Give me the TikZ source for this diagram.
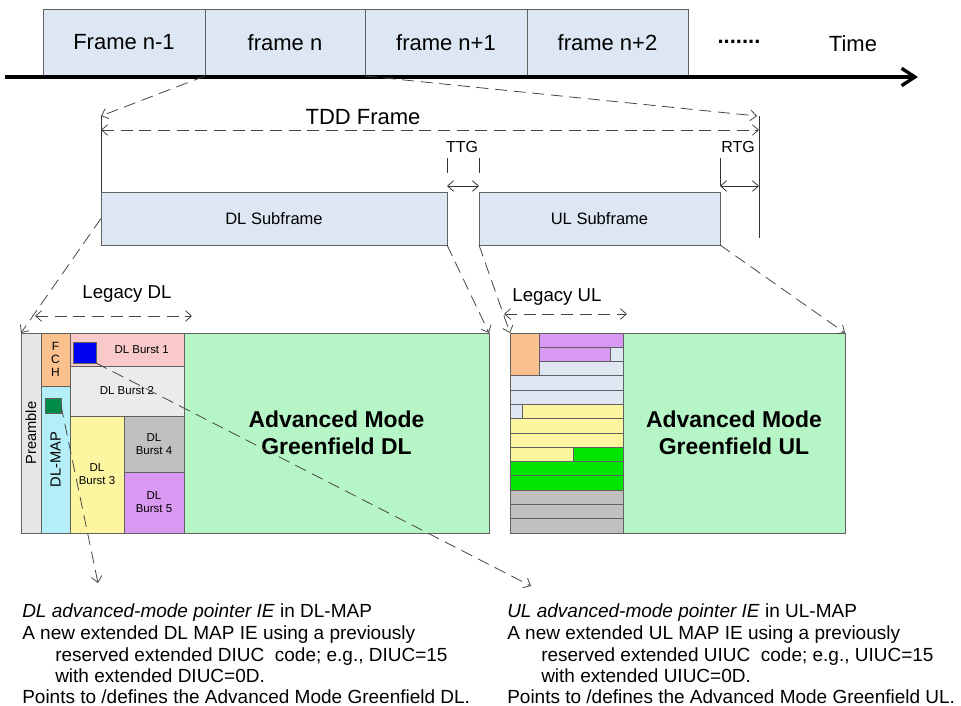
\documentclass[tikz,border=0pt]{standalone}
\usepackage{fontspec}
\setmainfont{Liberation Sans}
\usetikzlibrary{arrows.meta}
\definecolor{framebg}{RGB}{221,231,243}
\definecolor{preamblec}{RGB}{230,230,230}
\definecolor{fchc}{RGB}{250,192,142}
\definecolor{dlmapc}{RGB}{180,238,247}
\definecolor{burstA}{RGB}{249,201,201}
\definecolor{burstB}{RGB}{235,235,235}
\definecolor{yellowc}{RGB}{252,246,160}
\definecolor{grayc}{RGB}{192,192,192}
\definecolor{purplec}{RGB}{217,152,242}
\definecolor{greenfield}{RGB}{181,245,198}
\definecolor{ulblue}{RGB}{223,231,242}
\definecolor{ulgreen}{RGB}{0,228,0}
\definecolor{bluesq}{RGB}{0,0,240}
\definecolor{greensq}{RGB}{0,140,70}
\definecolor{linec}{RGB}{70,70,70}
\newcommand\blk[7]{\node[blkbase,#6,minimum width={(#4)*0.75pt},minimum height={(#5)*0.75pt}] (#1) at ({#2+(#4)/2},{#3+(#5)/2}) {#7};}
\newcommand\ulrow[6]{\blk{#1}{#2}{333+#4*14.2857}{#3-#2}{#6*14.2857}{fill=#5}{}}
\tikzset{
  blkbase/.style={draw=black!62, line width=0.6pt, inner sep=0pt, outer sep=0pt, rectangle, align=center},
  fr/.style={fill=framebg},
  ftop/.style={font=\fontsize{16.5}{19}\selectfont},
  fsub/.style={font=\fontsize{12.4}{14}\selectfont},
  fburst/.style={font=\fontsize{8.6}{9.8}\selectfont},
  fadv/.style={font=\fontsize{17.2}{20.3}\selectfont\bfseries},
  fbot/.style={font=\fontsize{14.25}{16}\selectfont, anchor=base west, inner sep=0pt},
  dsh/.style={draw=linec, line width=0.6pt, dash pattern=on 9pt off 5pt},
  thinl/.style={draw=black!80, line width=0.6pt},
  >={Straight Barb[length=4.5pt,width=8pt]}
}
\begin{document}
\begin{tikzpicture}[x=0.75pt,y=-0.75pt]
\useasboundingbox (0,0) rectangle (961,706);
% top time line
\blk{f1}{43}{9}{162}{67}{fr,ftop}{Frame n-1}
\blk{f2}{205}{9}{160}{67}{fr,ftop}{frame n}
\blk{f3}{365}{9}{162}{67}{fr,ftop}{frame n+1}
\blk{f4}{527}{9}{161}{67}{fr,ftop}{frame n+2}
\node[ftop] (dots) at (739,42) {\textbf{.......}};
\node[ftop] (time) at (853,44) {Time};
\coordinate (ax0) at (5,77);
\coordinate (ax1) at (918,77);
\draw[line width=2.5pt, -{Straight Barb[length=10pt,width=13pt]}] (ax0) -- (ax1);
% TDD frame
\coordinate (tl) at (101,116);
\coordinate (tr) at (759,116);
\coordinate (tra) at (757,116);
\coordinate (trb) at (759,238);
\coordinate (tdda) at (101,130);
\coordinate (tddb) at (759,130);
\node[font=\fontsize{16.5}{19}\selectfont] (tdd) at (363,117) {TDD Frame};
\blk{dlsf}{101}{192}{346}{53}{fr,fsub}{DL Subframe}
\blk{ulsf}{479}{192}{241}{53}{fr,fsub}{UL Subframe}
\draw[dsh,->] (f2.south west) -- (tl);
\draw[dsh,->] (f3.south west) -- (tra);
\draw[thinl] (tl) -- (dlsf.north west);
\draw[thinl] (tr) -- (trb);
\draw[dsh,<->] (tdda) -- (tddb);
% TTG / RTG
\coordinate (ttg1a) at (447,158); \coordinate (ttg1b) at (447,173);
\coordinate (ttg2a) at (479,158); \coordinate (ttg2b) at (479,173);
\coordinate (ttga) at (447,186); \coordinate (ttgb) at (479,186);
\coordinate (rtga) at (720,158); \coordinate (rtgb) at (720,186);
\coordinate (rtgc) at (759,186);
\node[font=\fontsize{12}{14}\selectfont] (ttg) at (462,147) {TTG};
\node[font=\fontsize{12}{14}\selectfont] (rtg) at (738,147) {RTG};
\draw[thinl] (ttg1a) -- (ttg1b);
\draw[thinl] (ttg2a) -- (ttg2b);
\draw[thinl,<->] (ttga) -- (ttgb);
\draw[thinl] (rtga) -- (rtgb);
\draw[thinl,<->] (rtgb) -- (rtgc);
% DL frame
\blk{pre}{21}{333}{20}{200}{fill=preamblec}{}
\node[rotate=90,font=\fontsize{11}{13}\selectfont] (pret) at (pre.center) {Preamble};
\blk{fch}{41}{333}{29}{53}{fill=fchc,font=\fontsize{9}{9.75}\selectfont}{F\\C\\H}
\blk{dlmap}{41}{386}{29}{147}{fill=dlmapc}{}
\node[rotate=90,font=\fontsize{11}{13}\selectfont] (dlmapt) at (dlmap.center) {DL-MAP};
\blk{b1}{70}{333}{114}{33}{fill=burstA,fburst}{\hspace*{22pt}DL Burst 1}
\blk{b2}{70}{366}{114}{50}{fill=burstB,fburst}{DL Burst 2}
\blk{b3}{70}{416}{54}{117}{fill=yellowc,fburst}{DL\\Burst 3}
\blk{b4}{124}{416}{60}{56}{fill=grayc,fburst}{DL\\Burst 4}
\blk{b5}{124}{472}{60}{61}{fill=purplec,fburst}{DL\\Burst 5}
\blk{gdl}{184}{333}{305}{200}{fill=greenfield,fadv}{Advanced Mode\\Greenfield DL}
\blk{bsq}{73}{342}{23}{21}{fill=bluesq}{}
\blk{gsq}{45}{398}{16}{15}{fill=greensq}{}
% UL frame
\ulrow{ulo}{510}{539}{0}{fchc}{3}
\ulrow{ul0}{539}{623}{0}{purplec}{1}
\ulrow{ul1a}{539}{610}{1}{purplec}{1}
\ulrow{ul1b}{610}{623}{1}{ulblue}{1}
\ulrow{ul2}{539}{623}{2}{ulblue}{1}
\ulrow{ul3}{510}{623}{3}{ulblue}{1}
\ulrow{ul4}{510}{623}{4}{ulblue}{1}
\ulrow{ul5a}{510}{522}{5}{ulblue}{1}
\ulrow{ul5b}{522}{623}{5}{yellowc}{1}
\ulrow{ul6}{510}{623}{6}{yellowc}{1}
\ulrow{ul7}{510}{623}{7}{yellowc}{1}
\ulrow{ul8a}{510}{573}{8}{yellowc}{1}
\ulrow{ul8b}{573}{623}{8}{ulgreen}{1}
\ulrow{ul9}{510}{623}{9}{ulgreen}{1}
\ulrow{ul10}{510}{623}{10}{ulgreen}{1}
\ulrow{ul11}{510}{623}{11}{grayc}{1}
\ulrow{ul12}{510}{623}{12}{grayc}{1}
\ulrow{ul13}{510}{623}{13}{grayc}{1}
\blk{gul}{623}{333}{222}{200}{fill=greenfield,fadv}{Advanced Mode\\Greenfield UL}
% subframe -> frame dashed
\draw[dsh,->] (dlsf.west) -- (pre.north west);
\draw[dsh,->] (dlsf.south east) -- (gdl.north east);
\draw[dsh,->] (ulsf.south west) -- (ulo.north west);
\draw[dsh,->] (ulsf.south east) -- (gul.north east);
% legacy labels
\node[font=\fontsize{14}{16}\selectfont] (ldl) at (127,294) {Legacy DL};
\coordinate (ldla) at (35,316); \coordinate (ldlb) at (192,316);
\draw[dsh,<->] (ldla) -- (ldlb);
\node[font=\fontsize{14}{16}\selectfont] (lul) at (557,297) {Legacy UL};
\coordinate (lula) at (504,314); \coordinate (lulb) at (627,314);
\draw[dsh,<->] (lula) -- (lulb);
% pointers
\coordinate (dlptr) at (98,583);
\coordinate (ulptr) at (531,586);
\draw[dsh,->] (gsq.east) -- (dlptr);
\draw[dsh,->] (bsq.south east) -- (ulptr);
% bottom text
\node[fbot] (dt1) at (22,617) {\textit{DL advanced-mode pointer IE} in DL-MAP};
\node[fbot] (dt2) at (22,639) {A new extended DL MAP IE using a previously};
\node[fbot] (dt3) at (55,661) {reserved extended DIUC\ \ code; e.g., DIUC=15};
\node[fbot] (dt4) at (55,682) {with extended DIUC=0D.};
\node[fbot] (dt5) at (22,703) {Points to /defines the Advanced Mode Greenfield DL.};
\node[fbot] (ut1) at (507,617) {\textit{UL advanced-mode pointer IE} in UL-MAP};
\node[fbot] (ut2) at (507,639) {A new extended UL MAP IE using a previously};
\node[fbot] (ut3) at (541,661) {reserved extended UIUC\ \ code; e.g., UIUC=15};
\node[fbot] (ut4) at (541,682) {with extended UIUC=0D.};
\node[fbot] (ut5) at (507,703) {Points to /defines the Advanced Mode Greenfield UL.};
\end{tikzpicture}
\end{document}
